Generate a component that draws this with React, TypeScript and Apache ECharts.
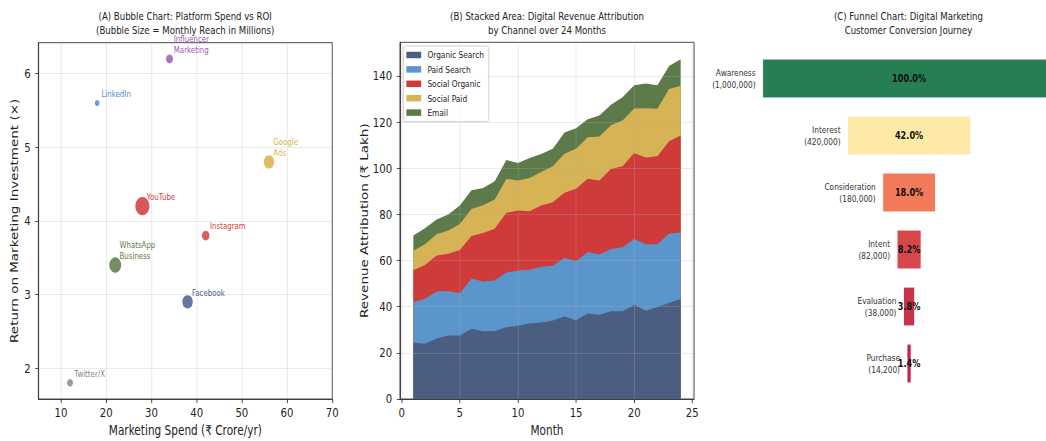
import React, { useEffect, useRef } from "react";
import * as echarts from "echarts";

// ---------- Data ----------
// (A) Bubble chart
const platformNames = ["YouTube", "Instagram", "Facebook", "WhatsApp Business", "Google Ads", "LinkedIn", "Twitter/X", "Influencer Marketing"];
const platformSpend = [28, 42, 38, 22, 56, 18, 12, 34];
const platformRoi = [4.2, 3.8, 2.9, 3.4, 4.8, 5.6, 1.8, 6.2];
const platformReach = [450, 130, 245, 325, 245, 50, 80, 110];
const platformColors = ["#d43a3a", "#dc3c3c", "#4a5f8e", "#5a7a48", "#d8b24a", "#4a90d0", "#888888", "#9b59b6"];
const spendTicks = [10, 20, 30, 40, 50, 60, 70];
const roiTicks = [2, 3, 4, 5, 6];

// (B) Stacked area
const months = [1, 2, 3, 4, 5, 6, 7, 8, 9, 10, 11, 12, 13, 14, 15, 16, 17, 18, 19, 20, 21, 22, 23, 24];
const organicSearch = [24.5, 24.0, 26.2, 27.5, 27.5, 30.4, 29.4, 29.5, 31.1, 31.8, 32.7, 33.2, 34.0, 35.8, 34.1, 37.1, 36.5, 38.0, 38.0, 40.9, 38.3, 39.9, 41.6, 43.3];
const paidSearch = [17.4, 19.5, 20.4, 19.3, 18.3, 21.8, 21.5, 21.9, 23.7, 23.9, 23.3, 24.1, 23.7, 25.4, 25.6, 26.6, 26.1, 27.0, 27.8, 28.5, 28.8, 27.2, 30.1, 28.9];
const socialOrganic = [13.9, 14.6, 15.6, 16.1, 18.8, 18.4, 21.0, 22.4, 25.9, 26.0, 25.4, 26.6, 27.6, 28.2, 31.4, 31.8, 32.1, 34.7, 35.1, 37.2, 37.6, 38.1, 40.0, 42.0];
const socialPaid = [8.5, 9.0, 9.2, 10.1, 11.2, 11.8, 12.1, 12.7, 14.7, 13.0, 14.4, 14.5, 15.6, 16.9, 17.4, 17.9, 19.1, 19.0, 19.8, 19.3, 21.3, 20.6, 22.7, 21.6];
const emailRevenue = [6.6, 6.9, 6.4, 7.0, 8.1, 8.1, 7.4, 7.9, 8.2, 7.6, 8.7, 7.8, 7.6, 9.2, 8.8, 7.9, 9.1, 8.8, 10.1, 10.1, 10.7, 10.2, 9.9, 11.4];
const channelNames = ["Organic Search", "Paid Search", "Social Organic", "Social Paid", "Email"];
const channelColors = ["#4b5e82", "#5a95cb", "#cf3a3a", "#d6b455", "#5d7a4a"];
const monthTicks = [0, 5, 10, 15, 20, 25];
const revenueTicks = [0, 20, 40, 60, 80, 100, 120, 140];

// (C) Funnel
const stages = ["Awareness", "Interest", "Consideration", "Intent", "Evaluation", "Purchase"];
const stageCounts = [1000000, 420000, 180000, 82000, 38000, 14200];
const stageColors = ["#267f53", "#fee9a6", "#f07a5a", "#d6464b", "#c93348", "#c0244a"];

// ---------- Layout ----------
const SCALE_X = 0.78;
const PAGE_W = 1046;
const PAGE_H = 441;
const CHART_W = Math.round(PAGE_W / SCALE_X);
const FONT = "'DejaVu Sans', sans-serif";

function valueAxis(extra: any) {
  return {
    type: "value",
    nameLocation: "middle",
    nameTextStyle: { color: "#222", fontSize: 13.5, fontFamily: FONT },
    axisLine: { show: true, onZero: false, lineStyle: { color: "#333", width: 1 } },
    splitLine: { show: true, lineStyle: { color: "rgba(176,176,176,0.3)", width: 1 } },
    ...extra,
  };
}

function tickStyle(values: number[]) {
  return { show: true, inside: false, length: 4, lineStyle: { color: "#333" }, customValues: values };
}

function labelStyle(values: number[], margin: number) {
  return { color: "#222", fontSize: 13, fontFamily: FONT, margin, customValues: values };
}

function buildOption() {
  const channelSeries = [organicSearch, paidSearch, socialOrganic, socialPaid, emailRevenue];
  // cumulative tops of each channel band (stack order: organic at the bottom)
  const cumulative: number[][] = [];
  channelSeries.forEach((vals, k) => {
    cumulative.push(vals.map((v, i) => (k === 0 ? 0 : cumulative[k - 1][i]) + v));
  });
  const stagePct = stageCounts.map((c) => (c / stageCounts[0]) * 100);

  // draw the highest band first so lower bands cover it
  const areaSeries = [4, 3, 2, 1, 0].map((k) => ({
    type: "line",
    name: channelNames[k],
    xAxisIndex: 1,
    yAxisIndex: 1,
    data: months.map((m, i) => [m, +cumulative[k][i].toFixed(2)]),
    symbol: "none",
    showSymbol: false,
    color: channelColors[k],
    lineStyle: { width: 0 },
    areaStyle: { color: channelColors[k], opacity: 1, origin: "start" },
    itemStyle: { color: channelColors[k] },
    z: 2,
  }));

  return {
    animation: false,
    backgroundColor: "#ffffff",
    textStyle: { fontFamily: FONT },
    grid: [
      { left: 49.2, top: 42.7, width: 376.8, height: 356.3, show: true, borderColor: "#333", borderWidth: 1, backgroundColor: "transparent", outerBoundsMode: "none" },
      { left: 512.8, top: 42.3, width: 377, height: 356.7, show: true, borderColor: "#333", borderWidth: 1, backgroundColor: "transparent", outerBoundsMode: "none" },
      { left: 977.7, top: 50, width: 375.6, height: 342, show: false, outerBoundsMode: "none" },
    ],
    xAxis: [
      valueAxis({
        gridIndex: 0, min: 5, max: 70,
        name: "Marketing Spend (₹ Crore/yr)", nameGap: 25,
        axisTick: tickStyle(spendTicks), axisLabel: labelStyle(spendTicks, 7),
      }),
      valueAxis({
        gridIndex: 1, min: -0.15, max: 25.15, z: 3,
        name: "Month", nameGap: 25,
        axisTick: tickStyle(monthTicks), axisLabel: labelStyle(monthTicks, 7),
      }),
      { type: "value", gridIndex: 2, min: 0, max: 100, show: false },
    ],
    yAxis: [
      valueAxis({
        gridIndex: 0, min: 1.58, max: 6.42,
        name: "Return on Marketing Investment (×)", nameGap: 24,
        axisTick: tickStyle(roiTicks), axisLabel: labelStyle(roiTicks, 10),
      }),
      valueAxis({
        gridIndex: 1, min: 0, max: 154.6, z: 3,
        name: "Revenue Attribution (₹ Lakh)", nameGap: 38,
        axisTick: tickStyle(revenueTicks), axisLabel: labelStyle(revenueTicks, 10),
      }),
      { type: "category", gridIndex: 2, data: stages, inverse: true, show: false },
    ],
    legend: {
      data: channelNames,
      orient: "vertical",
      left: 517,
      top: 46,
      icon: "rect",
      itemWidth: 19,
      itemHeight: 6.5,
      itemGap: 2.4,
      padding: [3, 6, 3, 4],
      borderColor: "#cccccc",
      borderWidth: 1,
      borderRadius: 3,
      backgroundColor: "rgba(255,255,255,0.8)",
      textStyle: { color: "#222", fontSize: 9.5, fontFamily: FONT, lineHeight: 12, padding: [0, 0, 0, 3] },
      selectedMode: false,
      z: 6,
    },
    graphic: [
      {
        type: "text", x: 237.4, y: 23, z: 10,
        style: { text: "(A) Bubble Chart: Platform Spend vs ROI\n(Bubble Size = Monthly Reach in Millions)", align: "center", verticalAlign: "middle", lineHeight: 14, fontSize: 11, fontFamily: FONT, fill: "#222" },
      },
      {
        type: "text", x: 701.3, y: 23, z: 10,
        style: { text: "(B) Stacked Area: Digital Revenue Attribution\nby Channel over 24 Months", align: "center", verticalAlign: "middle", lineHeight: 14, fontSize: 11, fontFamily: FONT, fill: "#222" },
      },
      {
        type: "text", x: 1164.7, y: 23, z: 10,
        style: { text: "(C) Funnel Chart: Digital Marketing\nCustomer Conversion Journey", align: "center", verticalAlign: "middle", lineHeight: 14, fontSize: 11, fontFamily: FONT, fill: "#222" },
      },
    ],
    series: [
      {
        type: "scatter",
        xAxisIndex: 0,
        yAxisIndex: 0,
        data: platformSpend.map((s, i) => [s, platformRoi[i], platformReach[i]]),
        symbolSize: (v: number[]) => Math.sqrt(v[2]) * 0.85,
        itemStyle: { color: (p: any) => platformColors[p.dataIndex], opacity: 0.85 },
        z: 2,
      },
      {
        type: "custom",
        xAxisIndex: 0,
        yAxisIndex: 0,
        silent: true,
        z: 4,
        data: platformSpend.map((s, i) => [s, platformRoi[i]]),
        renderItem: (params: any, api: any) => {
          const i = params.dataIndex;
          const p = api.coord([api.value(0), api.value(1)]);
          return {
            type: "text",
            x: p[0] + 5.5,
            y: p[1] - 3.5,
            style: {
              text: platformNames[i].replace(/ /g, "\n"),
              fill: platformColors[i],
              fontSize: 9,
              fontFamily: FONT,
              lineHeight: 11,
              align: "left",
              verticalAlign: "bottom",
            },
          };
        },
      },
      ...areaSeries,
      {
        type: "custom",
        xAxisIndex: 2,
        yAxisIndex: 2,
        silent: true,
        data: stagePct.map((p, i) => [p, i]),
        renderItem: (params: any, api: any) => {
          const i = params.dataIndex;
          const pct = api.value(0);
          const c = api.coord([50, api.value(1)]);
          const size = api.size([pct, 1]);
          const w = size[0];
          const h = size[1] * 0.68;
          return {
            type: "group",
            children: [
              {
                type: "rect",
                shape: { x: c[0] - w / 2, y: c[1] - h / 2, width: w, height: h },
                style: { fill: stageColors[i], stroke: "#ffffff", lineWidth: 1 },
              },
              {
                type: "text",
                x: c[0] - w / 2 - 9,
                y: c[1],
                style: {
                  text: stages[i] + "\n(" + stageCounts[i].toLocaleString("en-US") + ")",
                  align: "right",
                  verticalAlign: "middle",
                  fontSize: 9.5,
                  lineHeight: 11.4,
                  fontFamily: FONT,
                  fill: "#333",
                },
              },
              {
                type: "text",
                x: c[0],
                y: c[1],
                z2: 10,
                style: {
                  text: pct.toFixed(1) + "%",
                  align: "center",
                  verticalAlign: "middle",
                  fontSize: 10.5,
                  fontWeight: "bold",
                  fontFamily: FONT,
                  fill: "#111",
                },
              },
            ],
          };
        },
      },
    ],
  };
}

export default function App() {
  const ref = useRef<HTMLDivElement>(null);
  useEffect(() => {
    if (!ref.current) return;
    const chart = echarts.init(ref.current, null, { renderer: "svg", width: CHART_W, height: PAGE_H });
    chart.setOption(buildOption() as any);
    return () => chart.dispose();
  }, []);
  return (
    <div style={{ position: "fixed", left: 0, top: 0, width: PAGE_W, height: PAGE_H, overflow: "hidden", background: "#fff" }}>
      <div
        ref={ref}
        style={{ width: CHART_W, height: PAGE_H, transform: `scaleX(${SCALE_X})`, transformOrigin: "0 0" }}
      />
    </div>
  );
}
